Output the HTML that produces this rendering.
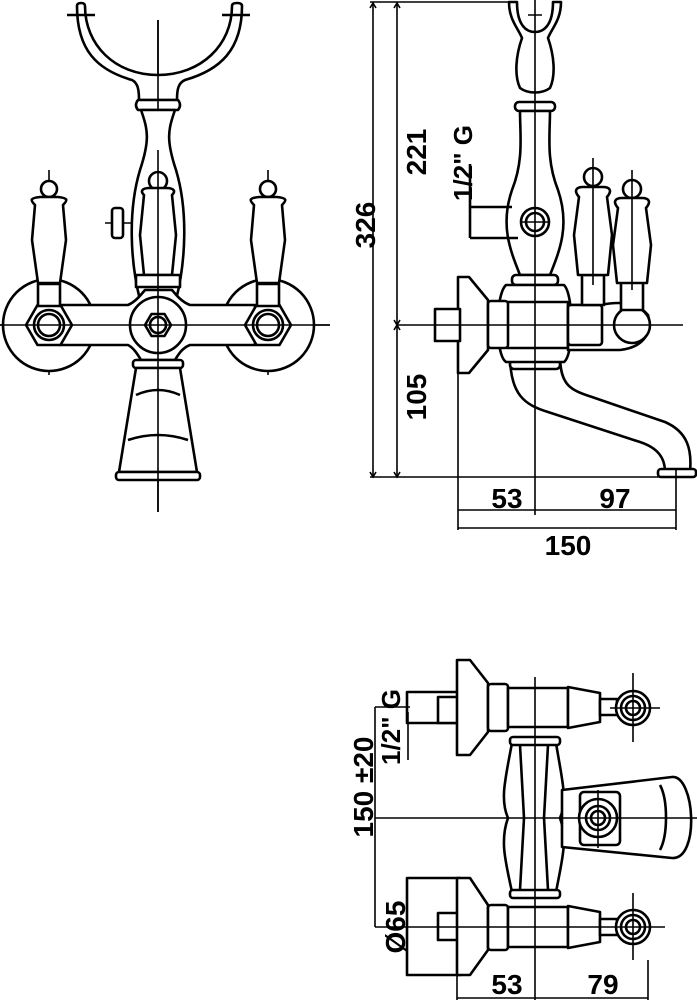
<!DOCTYPE html>
<html><head><meta charset="utf-8"><style>
html,body{margin:0;padding:0;background:#fff}
svg{display:block}
text{font-family:"Liberation Sans",sans-serif;font-weight:bold;fill:#000}
</style></head><body>
<svg width="697" height="1000" viewBox="0 0 697 1000" xmlns="http://www.w3.org/2000/svg">
<g fill="none" stroke="#000" stroke-width="1.6">
<line x1="158" y1="20" x2="158" y2="512"/>
<line x1="0" y1="325" x2="330" y2="325"/>
<line x1="49" y1="170" x2="49" y2="375"/>
<line x1="268" y1="170" x2="268" y2="375"/>
<line x1="105" y1="223" x2="143" y2="223"/>
</g>
<g fill="#fff" stroke="#000" stroke-width="2.6" stroke-linejoin="round">
<path d="M77 6 Q77 3 81 3 Q85 3 85 6 C85 45 115 75 158 75 C201 75 232 45 232 6 Q232 3 237 3 Q242 3 242 6 C242 50 220 70 185 80 C178 83 177 90 177 100 H139 C139 90 138 83 132 80 C97 70 77 50 77 6 Z"/>
<path d="M67 15 H95 M222 15 H250" fill="none"/>
<path d="M138 100 H178 Q182 105 178 110 H138 Q134 105 138 100 Z"/>
<path d="M141 110 H175 C168 130 166 140 176 170 C188 210 186 260 176 300 H140 C130 260 128 210 140 170 C150 140 148 130 141 110 Z"/>
<circle cx="49" cy="325" r="46"/>
<circle cx="268" cy="325" r="46"/>
<path d="M60 305 H128 C135 302 140 296 145 290 H172 C177 296 182 302 190 305 H255 V345 H190 C182 348 178 355 175 360 H141 C138 355 134 348 128 345 H60 Z"/>
<circle cx="158" cy="325" r="28"/>
<polygon points="171,325 164.5,336 151.5,336 145,325 151.5,314 164.5,314"/>
<circle cx="158" cy="325" r="8"/>
<polygon points="72,325 60.5,345 37.5,345 26,325 37.5,305 60.5,305"/>
<circle cx="49" cy="325" r="15"/><circle cx="49" cy="325" r="11"/>
<polygon points="291,325 279.5,345 256.5,345 245,325 256.5,305 279.5,305"/>
<circle cx="268" cy="325" r="15"/><circle cx="268" cy="325" r="11"/>
<rect x="38" y="284" width="22" height="22"/>
<circle cx="49" cy="189" r="8"/>
<path d="M35 205 C30 200 30 198 40 197 H58 C68 198 68 200 63 205 L66 240 L60 283 H38 L32 240 Z"/>
<rect x="257" y="284" width="22" height="22"/>
<circle cx="268" cy="189" r="8"/>
<path d="M254 205 C249 200 249 198 259 197 H277 C287 198 287 200 282 205 L285 240 L279 283 H257 L251 240 Z"/>
<circle cx="158" cy="181" r="9"/>
<path d="M144 195 C140 191 142 188 150 188 H166 C174 188 176 191 172 195 L176 235 L172 275 H144 L140 235 Z"/>
<rect x="136" y="275" width="44" height="12"/>
<rect x="112" y="208" width="11" height="30" rx="3"/>
<rect x="133" y="360" width="50" height="8" rx="3"/>
<path d="M136 368 H180 L197 472 H119 Z"/>
<path d="M136 395 Q158 385 180 395 M128 440 Q158 430 188 440" fill="none"/>
<rect x="116" y="472" width="84" height="8" rx="3"/>
</g>
<g stroke="#000" stroke-width="1.6"><line x1="158" y1="20" x2="158" y2="110"/><line x1="158" y1="150" x2="158" y2="512"/><line x1="0" y1="325" x2="330" y2="325"/></g>

<!-- ===== SIDE VIEW ===== -->
<g fill="#fff" stroke="#000" stroke-width="2.6" stroke-linejoin="round">
<path d="M509 2 C509 20 518 28 522 38 C516 55 514 75 520 88 C528 94 542 94 550 88 C556 75 554 55 548 38 C552 28 561 20 561 2 H553 C553 25 544 32 535 32 C526 32 517 25 517 2 Z"/>
<rect x="515" y="102" width="40" height="9" rx="4"/>
<path d="M520 111 C520 135 524 160 512 190 C500 225 510 250 520 275 H550 C560 250 570 225 558 190 C546 160 550 135 550 111 Z"/>
<rect x="512" y="275" width="46" height="10" rx="4"/>
<circle cx="535" cy="222" r="14"/><circle cx="535" cy="222" r="9"/>
<path d="M470 164 V238 M470 207 H512 M470 238 H518" fill="none"/>
<path d="M510 355 C510 395 525 405 548 412 L640 442 C658 448 665 458 665 472 H690 C692 450 688 432 665 422 L592 397 C570 390 560 385 560 355 Z"/>
<rect x="658" y="469" width="38" height="8" rx="3"/>
<rect x="510" y="360" width="50" height="9" rx="4"/>
<path d="M506 285 C495 295 495 355 506 362 H564 C574 355 574 295 564 285 Z"/>
<rect x="507" y="302" width="61" height="46"/>
<path d="M458 277 H469 L488 300 V350 L469 373 H458 Z"/>
<rect x="435" y="309" width="25" height="32"/>
<rect x="488" y="301" width="20" height="47" rx="3"/>
<path d="M568 305 H600 C625 300 640 305 648 315 C654 335 640 348 620 350 H568 Z"/>
<circle cx="632" cy="325" r="18"/>
<rect x="568" y="305" width="34" height="40" rx="3"/>
<rect x="582" y="275" width="22" height="30"/>
<rect x="621" y="282" width="22" height="28"/>
<circle cx="593" cy="177" r="9"/>
<path d="M579 197 C573 190 577 187 583 187 H603 C609 187 613 190 607 197 L612 235 L608 275 H578 L574 235 Z"/>
<circle cx="632" cy="189" r="9"/>
<path d="M618 208 C612 201 616 198 622 198 H642 C648 198 652 201 646 208 L651 245 L647 283 H617 L613 245 Z"/>
</g>
<g stroke="#000" stroke-width="1.6" fill="none">
<path d="M373 3 V477 M397 3 V477 M370 2 H518 M370 477 H695 M397 325 H683 M535 0 V515 M458 370 V530 M676 470 V530 M458 510 H676 M458 528 H676 M593 158 V285 M632 170 V290 M520 222 H550 M528 15 H542 M535 10 V22"/>
<path d="M370 8 L373 3 L376 8 M370 472 L373 477 L376 472 M394 8 L397 3 L400 8 M394 472 L397 477 L400 472 M394 320 L397 325 L400 320 M394 330 L397 325 L400 330"/>
</g>
<text font-size="28" transform="translate(375,225) rotate(-90)" text-anchor="middle">326</text>
<text font-size="28" transform="translate(426,152) rotate(-90)" text-anchor="middle">221</text>
<text font-size="28" transform="translate(426,397) rotate(-90)" text-anchor="middle">105</text>
<text font-size="26" transform="translate(472,163) rotate(-90)" text-anchor="middle">1/2" G</text>
<text font-size="28" x="507" y="508" text-anchor="middle">53</text>
<text font-size="28" x="615" y="508" text-anchor="middle">97</text>
<text font-size="28" x="568" y="555" text-anchor="middle">150</text>

<!-- ===== BOTTOM VIEW ===== -->
<g fill="#fff" stroke="#000" stroke-width="2.6" stroke-linejoin="round">
<path d="M512 743 C505 780 500 800 508 818 C500 840 505 860 512 892 H556 C562 860 568 840 560 818 C568 800 562 780 556 743 Z"/>
<path d="M520 745 L524 818 L520 890 M548 745 L544 818 L548 890" fill="none"/>
<path d="M562 790 L672 777 C695 775 700 860 672 858 L562 847 Z"/>
<path d="M660 785 C668 800 668 835 660 850" fill="none"/>
<rect x="580" y="792" width="40" height="53" rx="4"/>
<circle cx="598" cy="818" r="19"/><circle cx="598" cy="818" r="12"/><circle cx="598" cy="818" r="7"/>
<rect x="510" y="737" width="50" height="8" rx="3"/>
<rect x="510" y="890" width="50" height="8" rx="3"/>
<rect x="407" y="692" width="53" height="31"/>
<rect x="438" y="697" width="22" height="26"/>
<path d="M457 660 H470 L488 683 V732 L470 755 H457 Z"/>
<rect x="488" y="684" width="20" height="47" rx="3"/>
<path d="M508 688 H568 V727 H508 Z"/>
<path d="M568 687 L600 693 V722 L568 728 Z"/>
<rect x="600" y="699" width="17" height="16"/>
<circle cx="633" cy="708" r="17"/><circle cx="633" cy="708" r="12"/><circle cx="633" cy="708" r="7"/>
<rect x="407" y="878" width="53" height="97"/>
<rect x="438" y="913" width="22" height="27"/>
<path d="M457 878 H470 L488 905 V950 L470 975 H457 Z"/>
<rect x="488" y="905" width="20" height="45" rx="3"/>
<path d="M508 907 H568 V947 H508 Z"/>
<path d="M568 906 L600 912 V942 L568 948 Z"/>
<rect x="600" y="919" width="17" height="16"/>
<circle cx="633" cy="927" r="17"/><circle cx="633" cy="927" r="12"/><circle cx="633" cy="927" r="7"/>
</g>
<g stroke="#000" stroke-width="1.6" fill="none">
<path d="M535 677 V1000 M375 818 H697 M375 707 V927 M375 707 H410 M375 927 H665 M633 673 V742 M610 708 H660 M633 893 V960 M610 927 H665 M598 790 V848 M408 712 V760 M457 960 V1000 M648 960 V1000 M457 998 H648"/>
</g>
<text font-size="26" transform="translate(400,727) rotate(-90)" text-anchor="middle">1/2" G</text>
<text font-size="28" transform="translate(373,787) rotate(-90)" text-anchor="middle">150 ±20</text>
<text font-size="28" transform="translate(405,927) rotate(-90)" text-anchor="middle">Ø65</text>
<text font-size="28" x="507" y="994" text-anchor="middle">53</text>
<text font-size="28" x="603" y="994" text-anchor="middle">79</text>
</svg>
</body></html>
